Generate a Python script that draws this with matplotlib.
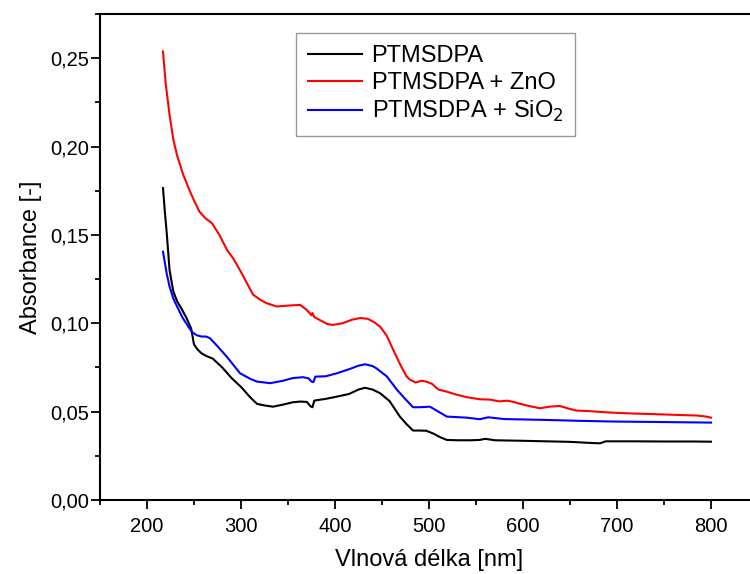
import numpy as np
import matplotlib.pyplot as plt
from matplotlib.ticker import MultipleLocator, FuncFormatter

plt.rcParams['font.family'] = ['Liberation Sans', 'DejaVu Sans']

# PTMSDPA (black)
x_k = [217, 219, 221, 224, 228, 232, 237, 242, 247, 250, 254, 258, 263, 270, 280,
       290, 300, 310, 317, 325, 334, 345, 355, 363, 370, 374, 376, 378, 382, 390,
       402, 415, 425, 432, 440, 448, 458, 469, 476, 483, 490, 497, 505, 512, 519,
       530, 545, 554, 560, 570, 600, 625, 650, 675, 682, 688, 720, 750, 780, 800]
y_k = [0.1765, 0.163, 0.151, 0.130, 0.118, 0.1125, 0.108, 0.103, 0.097, 0.088,
       0.085, 0.083, 0.0815, 0.080, 0.075, 0.069, 0.064, 0.058, 0.0544, 0.0535,
       0.0528, 0.054, 0.0553, 0.0557, 0.0555, 0.053, 0.0525, 0.0562, 0.0566, 0.0572,
       0.0585, 0.060, 0.0625, 0.0635, 0.0625, 0.0604, 0.056, 0.0472, 0.043, 0.0393,
       0.0393, 0.0392, 0.0375, 0.0355, 0.034, 0.0338, 0.0338, 0.034, 0.0346, 0.0338,
       0.0335, 0.0332, 0.0329, 0.0322, 0.0321, 0.0332, 0.0332, 0.0331, 0.0331, 0.033]

# PTMSDPA + ZnO (red)
x_r = [217, 220, 224, 228, 232, 238.6, 245, 250, 256, 262, 269, 277, 285, 292, 300,
       308, 313, 320, 327, 338, 350, 363, 370, 375, 376, 378, 385, 392, 398, 408,
       418, 427, 435, 442, 448, 455, 462, 470, 476, 480, 486, 492, 497, 503, 510,
       519, 528, 540, 548, 554, 565, 575, 583, 590, 597, 608, 618, 628, 639, 648,
       657, 670, 684, 696, 714, 732, 750, 767, 785, 795, 800]
y_r = [0.2538, 0.235, 0.218, 0.204, 0.195, 0.184, 0.1755, 0.1695, 0.1630, 0.1595,
       0.1567, 0.150, 0.1416, 0.1365, 0.129, 0.121, 0.1161, 0.1135, 0.1114, 0.1095,
       0.110, 0.1104, 0.1075, 0.1045, 0.1058, 0.1035, 0.1015, 0.0995, 0.0991, 0.100,
       0.102, 0.1030, 0.1025, 0.1005, 0.0981, 0.093, 0.0849, 0.076, 0.070, 0.068,
       0.0665, 0.0675, 0.067, 0.0658, 0.0625, 0.0613, 0.0598, 0.0582, 0.0575, 0.057,
       0.0568, 0.0558, 0.0562, 0.0555, 0.0544, 0.0530, 0.0519, 0.0528, 0.0532, 0.0518,
       0.0506, 0.0503, 0.0498, 0.0494, 0.0490, 0.0487, 0.0484, 0.0481, 0.0478, 0.0472,
       0.0466]

# PTMSDPA + SiO2 (blue)
x_b = [217, 221, 224, 228, 232, 238, 244, 248, 253, 258, 263, 267, 275, 285, 299,
       310, 317, 331, 345, 355, 366, 372, 375, 377, 379, 390, 402, 415, 425, 432,
       440, 444, 455, 466, 475, 483, 490, 501, 510, 519, 540, 554, 563, 580, 625,
       660, 696, 750, 800]
y_b = [0.1405, 0.128, 0.1208, 0.114, 0.1095, 0.103, 0.0981, 0.095, 0.0932, 0.0925,
       0.0925, 0.0915, 0.087, 0.081, 0.0717, 0.0685, 0.067, 0.0661, 0.0675, 0.069,
       0.0695, 0.0688, 0.067, 0.0667, 0.0698, 0.0700, 0.0717, 0.074, 0.076, 0.0768,
       0.0758, 0.0745, 0.070, 0.0623, 0.057, 0.0525, 0.0525, 0.0528, 0.050, 0.0472,
       0.0466, 0.0457, 0.0468, 0.0458, 0.0453, 0.0448, 0.0444, 0.0441, 0.0438]

fig = plt.figure(figsize=(7.5, 5.74), dpi=100)
ax = fig.add_axes([100 / 750, 74 / 574, 658 / 750, 486 / 574])

ax.plot(x_k, y_k, color='black', lw=1.5, label='PTMSDPA')
ax.plot(x_r, y_r, color='#ff0000', lw=1.5, label='PTMSDPA + ZnO')
ax.plot(x_b, y_b, color='#0000ff', lw=1.5, label='PTMSDPA + SiO$_2$')

ax.set_xlim(150, 850)
ax.set_ylim(0, 0.275)
ax.xaxis.set_major_locator(MultipleLocator(100))
ax.xaxis.set_minor_locator(MultipleLocator(50))
ax.yaxis.set_major_locator(MultipleLocator(0.05))
ax.yaxis.set_minor_locator(MultipleLocator(0.025))
ax.yaxis.set_major_formatter(FuncFormatter(lambda v, p: f'{v:.2f}'.replace('.', ',')))

for s in ax.spines.values():
    s.set_linewidth(1.5)
ax.tick_params(which='major', direction='out', length=6.5, width=1.3, labelsize=14.5)
ax.tick_params(which='minor', direction='out', length=3.5, width=1.3)
ax.tick_params(axis='y', pad=1)
ax.tick_params(axis='x', pad=6)

ax.set_xlabel('Vlnová délka [nm]', fontsize=17, labelpad=9)
ax.set_ylabel('Absorbance [-]', fontsize=17, labelpad=6)

leg = ax.legend(loc='upper left', bbox_to_anchor=(296 / 750, 1 - 33 / 574),
                bbox_transform=fig.transFigure, borderaxespad=0, fontsize=17,
                frameon=True, fancybox=False, edgecolor='#808080', handlelength=2.3,
                labelspacing=0.22, borderpad=0.5, handletextpad=0.4)
leg.get_frame().set_linewidth(1.0)

fig.savefig('out.png', dpi=100)
